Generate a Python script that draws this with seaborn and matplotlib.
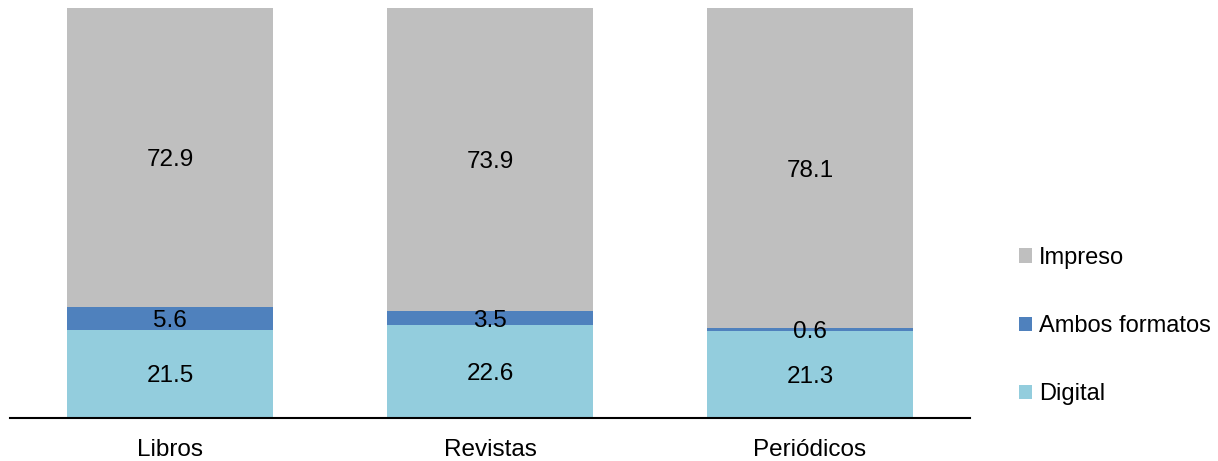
import numpy as np
import pandas as pd
import matplotlib
matplotlib.use("Agg")
import matplotlib.pyplot as plt
import seaborn as sns
from matplotlib.patches import Patch

categories = ["Libros", "Revistas", "Periódicos"]
digital = [21.5, 22.6, 21.3]
ambos = [5.6, 3.5, 0.6]
impreso = [72.9, 73.9, 78.1]
series_names = ["Digital", "Ambos formatos", "Impreso"]
colors = {"Digital": "#93CDDD", "Ambos formatos": "#4F81BD", "Impreso": "#BFBFBF"}

sns.set_style("white")
plt.rcParams["font.family"] = ["Liberation Sans", "DejaVu Sans"]
plt.rcParams["text.color"] = "black"

FS = 17.5

fig = plt.figure(figsize=(12.18, 4.61), dpi=100)
ax = fig.add_axes([10/1218, 43/461, 960/1218, 410/461])

df = pd.DataFrame({"cat": categories, "Digital": digital,
                   "Ambos formatos": ambos, "Impreso": impreso})
bottom = np.zeros(len(categories))
for name in series_names:
    vals = df[name].to_numpy()
    sns.barplot(x=df["cat"], y=vals, bottom=bottom, color=colors[name],
                width=0.645, ax=ax, saturation=1, edgecolor="none", linewidth=0)
    for i, (v, b) in enumerate(zip(vals, bottom)):
        ax.text(i, b + v / 2, f"{v:.1f}", ha="center", va="center_baseline",
                fontsize=FS, color="black")
    bottom = bottom + vals

ax.set_xlim(-0.5, 2.5)
ax.set_ylim(0, 100)
ax.set_yticks([])
ax.set_xlabel("")
ax.set_ylabel("")
for s in ["top", "right", "left"]:
    ax.spines[s].set_visible(False)
ax.spines["bottom"].set_color("black")
ax.spines["bottom"].set_linewidth(1.5)
ax.tick_params(axis="x", length=0, labelsize=FS, pad=15, colors="black")

handles = [Patch(facecolor=colors[n], edgecolor="none") for n in reversed(series_names)]
leg = fig.legend(handles, list(reversed(series_names)), loc="center left",
                 bbox_to_anchor=(1019/1218, 1 - 326/461), frameon=False, fontsize=17,
                 borderpad=0, borderaxespad=0,
                 handlelength=0.55, handleheight=0.55, handletextpad=0.3,
                 labelspacing=1.95)
for t in leg.get_texts():
    t.set_color("black")

fig.savefig("out.png", dpi=100)
